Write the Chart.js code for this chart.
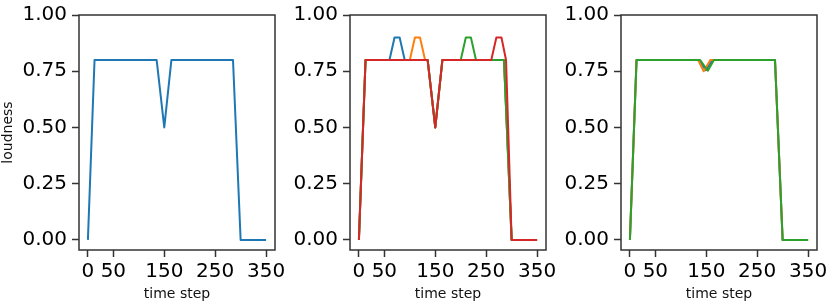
<!DOCTYPE html>
<html>
<head>
<meta charset="utf-8">
<script src="https://cdn.jsdelivr.net/npm/chart.js@4/dist/chart.umd.min.js"></script>
<style>
html, body { margin: 0; padding: 0; background: #fff; overflow: hidden; width: 829px; height: 305px; }
canvas { position: absolute; top: 0; }
</style>
</head>
<body>
<canvas id="c1" width="300" height="305" style="left:0px"></canvas>
<canvas id="c2" width="301" height="305" style="left:270px"></canvas>
<canvas id="c3" width="301" height="305" style="left:541px"></canvas>
<script>
/* globals Chart */

// tick labels
const xTicks = [0, 50, 150, 250, 350];
const yTicks = [0, 0.25, 0.5, 0.75, 1.0];

// left panel
const stepsA = [0, 13, 135, 150, 164, 285, 300, 350];
const loudA = [0, 0.8, 0.8, 0.5, 0.8, 0.8, 0, 0];

// middle panel, four runs
const stepsB1 = [0, 13, 60, 70, 80, 90, 135, 150, 164, 285, 300, 350];
const loudB1 = [0, 0.8, 0.8, 0.9, 0.9, 0.8, 0.8, 0.5, 0.8, 0.8, 0, 0];
const stepsB2 = [0, 13, 100, 110, 120, 130, 135, 150, 164, 285, 300, 350];
const loudB2 = [0, 0.8, 0.8, 0.9, 0.9, 0.8, 0.8, 0.5, 0.8, 0.8, 0, 0];
const stepsB3 = [0, 13, 135, 150, 164, 200, 210, 220, 230, 285, 300, 350];
const loudB3 = [0, 0.8, 0.8, 0.5, 0.8, 0.8, 0.9, 0.9, 0.8, 0.8, 0, 0];
const stepsB4 = [0, 13, 135, 150, 164, 260, 270, 280, 289, 300, 350];
const loudB4 = [0, 0.8, 0.8, 0.5, 0.8, 0.8, 0.9, 0.9, 0.8, 0, 0];

// right panel, three runs
const stepsC1 = [0, 13, 136, 149, 162, 285, 300, 350];
const loudC1 = [0, 0.8, 0.8, 0.755, 0.8, 0.8, 0, 0];
const stepsC2 = [0, 13, 134, 145, 158, 285, 300, 350];
const loudC2 = [0, 0.8, 0.8, 0.75, 0.8, 0.8, 0, 0];
const stepsC3 = [0, 13, 138, 153, 165, 285, 300, 350];
const loudC3 = [0, 0.8, 0.8, 0.752, 0.8, 0.8, 0, 0];

const BLUE = "#1f77b4";
const ORANGE = "#ff7f0e";
const GREEN = "#2ca02c";
const RED = "#d62728";

const tickFont = { family: "DejaVu Sans", size: 20, lineHeight: 1 };
const titleFont = { family: "DejaVu Sans", size: 14 };

const frame = {
    id: "frame",
    afterDraw(chart) {
        const { ctx, chartArea: a } = chart;
        ctx.save();
        ctx.strokeStyle = "#333";
        ctx.lineWidth = 1.5;
        ctx.strokeRect(a.left, a.top, a.right - a.left, a.bottom - a.top);
        ctx.restore();
    }
};

const toPoints = (steps, loud) => steps.map((s, i) => ({ x: s, y: loud[i] }));

const makePanel = (id, yWidth, series, yTitle) => {
    const datasets = series.map((row, i) => ({
        data: toPoints(row.steps, row.loud),
        borderColor: row.color,
        backgroundColor: row.color,
        order: -i
    }));

    const grid = {
        display: true,
        drawOnChartArea: false,
        drawTicks: true,
        tickLength: 7,
        tickWidth: 1.5,
        tickColor: "#333"
    };

    new Chart(document.getElementById(id), {
        type: "line",
        data: { datasets },
        plugins: [frame],
        options: {
            responsive: false,
            animation: false,
            devicePixelRatio: 1,
            layout: { padding: { left: 0, top: 10, right: 25, bottom: 0 } },
            plugins: { legend: { display: false }, tooltip: { enabled: false } },
            elements: {
                point: { radius: 0 },
                line: { borderWidth: 2, tension: 0, borderJoinStyle: "round" }
            },
            scales: {
                x: {
                    type: "linear",
                    min: -17.5,
                    max: 367.5,
                    afterBuildTicks: (s) => { s.ticks = xTicks.map((v) => ({ value: v })); },
                    afterFit: (s) => { s.height = 55; },
                    ticks: { font: tickFont, color: "#000", padding: 5, autoSkip: false, maxRotation: 0,
                        callback: (v) => String(v) },
                    grid,
                    border: { display: false },
                    title: { display: true, text: "time step", font: titleFont, color: "#111",
                        padding: { top: 0, bottom: 2 } }
                },
                y: {
                    type: "linear",
                    min: -0.045,
                    max: 1.0,
                    afterBuildTicks: (s) => { s.ticks = yTicks.map((v) => ({ value: v })); },
                    afterFit: (s) => { s.width = yWidth; },
                    ticks: { font: tickFont, color: "#000", padding: 5,
                        callback: (v) => Number(v).toFixed(2) },
                    grid,
                    border: { display: false },
                    title: { display: yTitle, text: "loudness", font: titleFont, color: "#111",
                        padding: { top: 0, bottom: 0 } }
                }
            }
        }
    });
};

makePanel("c1", 79, [
    { steps: stepsA, loud: loudA, color: BLUE }
], true);

makePanel("c2", 80, [
    { steps: stepsB1, loud: loudB1, color: BLUE },
    { steps: stepsB2, loud: loudB2, color: ORANGE },
    { steps: stepsB3, loud: loudB3, color: GREEN },
    { steps: stepsB4, loud: loudB4, color: RED }
], false);

makePanel("c3", 80, [
    { steps: stepsC1, loud: loudC1, color: BLUE },
    { steps: stepsC2, loud: loudC2, color: ORANGE },
    { steps: stepsC3, loud: loudC3, color: GREEN }
], false);
</script>
</body>
</html>
